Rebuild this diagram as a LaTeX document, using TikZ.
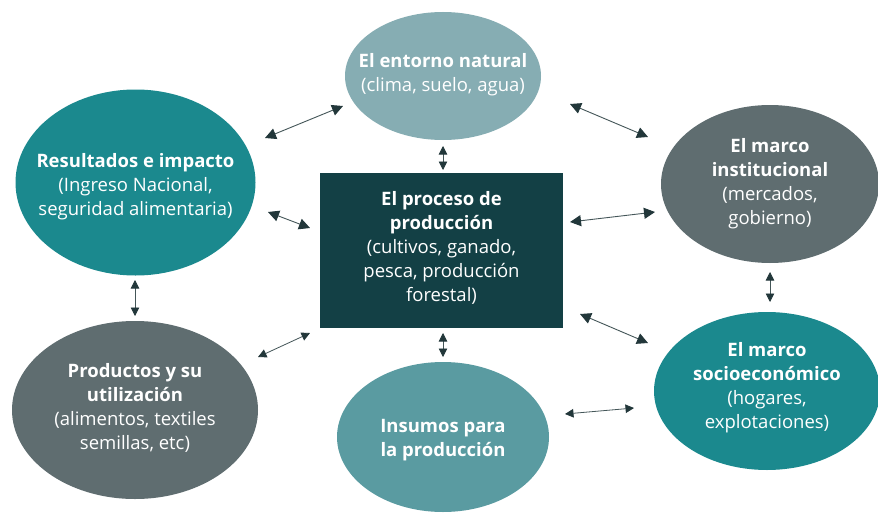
\documentclass[tikz,border=0pt]{standalone}
\usepackage{fontspec}
\setmainfont{Open Sans}
\usetikzlibrary{shapes.geometric,arrows.meta}
\definecolor{cTeal}{HTML}{1B898E}
\definecolor{cGrey}{HTML}{5F6D70}
\definecolor{cTop}{HTML}{86ADB3}
\definecolor{cBot}{HTML}{5A9BA1}
\definecolor{cRect}{HTML}{134045}
\definecolor{cTip}{HTML}{22373A}
\definecolor{cLine}{HTML}{445658}
\begin{document}
\begin{tikzpicture}[x=1pt,y=-1pt,
  bub/.style={ellipse, inner sep=0pt},
  txt/.style={inner sep=0pt, text=white, align=center, font=\fontsize{18.5}{24}\selectfont},
  arr/.style={{Triangle[length=11pt,width=11pt,color=cTip]}-{Triangle[length=11pt,width=11pt,color=cTip]}, draw=cLine, line width=0.9pt},
  sarr/.style={{Triangle[length=8.5pt,width=8.5pt,color=cTip]}-{Triangle[length=8.5pt,width=8.5pt,color=cTip]}, draw=cLine, line width=0.8pt}]
\useasboundingbox (0,0) rectangle (878,519);
\fill[white] (0,0) rectangle (878,519);

\node[bub, fill=cTop, minimum width=196pt, minimum height=128pt] (top) at (443,76) {};
\node[bub, fill=cTeal, minimum width=240pt, minimum height=186pt] (res) at (135.5,182.5) {};
\node[bub, fill=cGrey, minimum width=246pt, minimum height=178pt] (prod) at (135,410) {};
\node[bub, fill=cBot, minimum width=212pt, minimum height=150pt] (ins) at (443,437) {};
\node[bub, fill=cGrey, minimum width=218pt, minimum height=158pt] (inst) at (770,184) {};
\node[bub, fill=cTeal, minimum width=226pt, minimum height=158pt] (soc) at (767,391) {};
\node[rectangle, inner sep=0pt, fill=cRect, minimum width=243pt, minimum height=155pt] (proc) at (441.5,250.5) {};

\node[txt] (topT) at (443,75) {\textbf{El entorno natural}\\(clima, suelo, agua)};
\node[txt] (resT) at (135.5,187) {\textbf{Resultados e impacto}\\(Ingreso Nacional,\\seguridad alimentaria)};
\node[txt] (prodT) at (135,408) {\textbf{Productos y su}\\\textbf{utilización}\\(alimentos, textiles\\semillas, etc)};
\node[txt] (insT) at (443,440) {\textbf{Insumos para}\\\textbf{la producción}};
\node[txt] (instT) at (770,184) {\textbf{El marco}\\\textbf{institucional}\\(mercados,\\gobierno)};
\node[txt] (socT) at (767,388) {\textbf{El marco}\\\textbf{socioeconómico}\\(hogares,\\explotaciones)};
\node[txt] (procT) at (441.5,248) {\textbf{El proceso de}\\\textbf{producción}\\(cultivos, ganado,\\pesca, producción\\forestal)};

\coordinate (a1s) at (265,138); \coordinate (a1e) at (343,106);
\coordinate (a2s) at (570,104); \coordinate (a2e) at (648,137);
\coordinate (a3s) at (268,212); \coordinate (a3e) at (310,228);
\coordinate (a4s) at (570,222); \coordinate (a4e) at (655,212);
\coordinate (a5s) at (258,357); \coordinate (a5e) at (310,333);
\coordinate (a6s) at (580,314); \coordinate (a6e) at (648,343);
\coordinate (a7s) at (443,146); \coordinate (a7e) at (443,170);
\coordinate (a8s) at (443,333); \coordinate (a8e) at (443,357);
\coordinate (a9s) at (135,280); \coordinate (a9e) at (135,316);
\coordinate (a10s) at (770,272); \coordinate (a10e) at (770,302);
\coordinate (a11s) at (565,414); \coordinate (a11e) at (634,408);

\draw[arr] (a1s) -- (a1e);
\draw[arr] (a2s) -- (a2e);
\draw[arr] (a3s) -- (a3e);
\draw[arr] (a4s) -- (a4e);
\draw[sarr] (a5s) -- (a5e);
\draw[arr] (a6s) -- (a6e);
\draw[sarr] (a7s) -- (a7e);
\draw[sarr] (a8s) -- (a8e);
\draw[sarr] (a9s) -- (a9e);
\draw[sarr] (a10s) -- (a10e);
\draw[sarr] (a11s) -- (a11e);
\end{tikzpicture}
\end{document}
